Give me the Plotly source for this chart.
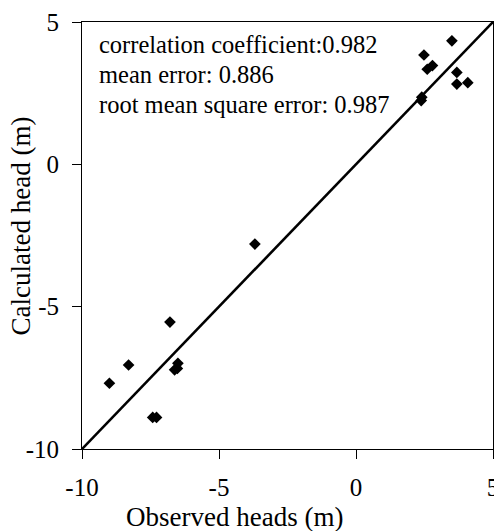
import plotly.graph_objects as go

# Observed vs calculated groundwater heads (m)
observed = [3.50, 2.48, 2.79, 2.60, 3.68, 3.68, 4.08, 2.40, 2.38,
            -3.69,
            -8.30, -9.00, -6.79, -6.50, -6.62, -6.52, -7.42, -7.28]
calculated = [4.34, 3.84, 3.47, 3.34, 3.23, 2.82, 2.87, 2.36, 2.24,
              -2.80,
              -7.05, -7.69, -5.54, -6.99, -7.22, -7.17, -8.89, -8.89]

# 1:1 reference line
line_x = [-10, 5]
line_y = [-10, 5]

tick_vals = [-10, -5, 0, 5]
tick_text = ["-10", "-5", "0", "5"]

stats = [
    "correlation coefficient:0.982",
    "mean error: 0.886",
    "root mean square error: 0.987",
]

FONT = "Liberation Serif"
W, H = 494, 531
L, R, T, B = 82, 1, 22, 82
pw, ph = W - L - R, H - T - B


def px(x):
    return (x - L) / pw


def py(y):
    return (H - B - y) / ph


fig = go.Figure()
fig.add_trace(go.Scatter(x=line_x, y=line_y, mode="lines",
                         line=dict(color="black", width=2.6),
                         showlegend=False, hoverinfo="skip"))
fig.add_trace(go.Scatter(x=observed, y=calculated, mode="markers",
                         marker=dict(symbol="diamond", size=9, color="black"),
                         showlegend=False))

axis_common = dict(
    tickvals=tick_vals, ticktext=tick_text,
    showgrid=False, zeroline=False,
    showline=True, linecolor="black", linewidth=1, mirror=True,
    ticks="outside", ticklen=9, tickcolor="black", tickwidth=1,
    tickfont=dict(family=FONT, size=25, color="black"),
    ticklabeloverflow="allow", automargin=False,
)

fig.update_xaxes(range=[-10, 5], ticklabelstandoff=7, **axis_common)
fig.update_yaxes(range=[-10, 5], ticklabelstandoff=8, **axis_common)

for i, s in enumerate(stats):
    fig.add_annotation(text=s, xref="paper", yref="paper",
                       x=px(97), y=py(45 + 29.5 * i),
                       xanchor="left", yanchor="middle", showarrow=False,
                       font=dict(family=FONT, size=24.5, color="black"))

fig.add_annotation(text="Observed heads (m)", xref="paper", yref="paper",
                   x=px(234.5), y=py(517), xanchor="center", yanchor="middle",
                   showarrow=False,
                   font=dict(family=FONT, size=27, color="black"))
fig.add_annotation(text="Calculated head (m)", xref="paper", yref="paper",
                   x=px(20), y=py(226.5), xanchor="center", yanchor="middle",
                   textangle=-90, showarrow=False,
                   font=dict(family=FONT, size=27, color="black"))

fig.update_layout(
    width=W, height=H,
    font=dict(family=FONT, color="black"),
    margin=dict(l=L, r=R, t=T, b=B, pad=0, autoexpand=False),
    paper_bgcolor="white", plot_bgcolor="white",
)

fig.write_html("out.html")
